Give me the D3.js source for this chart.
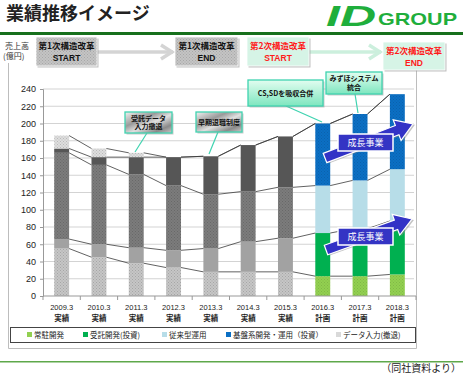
<!DOCTYPE html>
<html>
<head>
<meta charset="utf-8">
<script src="https://cdn.jsdelivr.net/npm/d3@7"></script>
<style>
  body { margin: 0; background: #fff; }
  svg { display: block; font-family: "Liberation Sans", "Noto Sans CJK JP", sans-serif; }
</style>
</head>
<body>
<div id="chart"></div>
<script>
// categories and values (億円)
const categories = ["2009.3", "2010.3", "2011.3", "2012.3", "2013.3", "2014.3", "2015.3", "2016.3", "2017.3", "2018.3"];
const periods = ["実績", "実績", "実績", "実績", "実績", "実績", "実績", "計画", "計画", "計画"];
const seriesNames = ["常駐開発", "受託開発(投資)", "従来型運用", "基盤系開発・運用（投資）", "データ入力(撤退)"];
const joutyu = [55, 45, 38, 33, 28, 28, 28, 23, 23, 25];
const jutaku = [11, 15, 18, 20, 27, 35, 39, 50, 55, 62];
const jurai = [100, 92, 85, 75, 63, 58, 59, 55, 56, 60];
const kiban = [5, 9, 20, 33, 44, 54, 59, 72, 77, 87];
const dataNyu = [15, 10, 5, 0, 0, 0, 0, 0, 0, 0];
const yTicks = [0, 20, 40, 60, 80, 100, 120, 140, 160, 180, 200, 220, 240];

const actualColors = ["#c6c6c6", "#a2a2a2", "#7c7c7c", "#565656", "#dedede"];
const planColors = ["#92d050", "#00b050", "#b7dde8", "#0b6fc4", "#d9d9d9"];
const dotted = [true, false, true, false, true];

const W = 463, H = 374;
const svg = d3.select("#chart").append("svg").attr("width", W).attr("height", H);
const defs = svg.append("defs");

// dotted textures
function makePattern(id, base, dot) {
  const p = defs.append("pattern").attr("id", id).attr("width", 3).attr("height", 3)
    .attr("patternUnits", "userSpaceOnUse");
  p.append("rect").attr("width", 3).attr("height", 3).attr("fill", base);
  p.append("rect").attr("x", 0).attr("y", 0).attr("width", 1).attr("height", 1).attr("fill", dot);
  p.append("rect").attr("x", 1.5).attr("y", 1.5).attr("width", 1).attr("height", 1).attr("fill", dot);
}
actualColors.forEach((c, i) => makePattern("pa" + i, c, d3.color(c).darker(0.5)));
planColors.forEach((c, i) => makePattern("pp" + i, c, d3.color(c).darker(0.35)));
makePattern("boxgray", "#c4c4c4", "#a8a8a8");

const metal = defs.append("linearGradient").attr("id", "metal")
  .attr("x1", "0").attr("y1", "0").attr("x2", "1").attr("y2", "1");
[["0", "#f2f2f2"], ["0.35", "#9a9a9a"], ["0.55", "#e0e0e0"], ["0.8", "#8a8a8a"], ["1", "#c8c8c8"]]
  .forEach(([o, c]) => metal.append("stop").attr("offset", o).attr("stop-color", c));
const mint = defs.append("linearGradient").attr("id", "mint")
  .attr("x1", "0").attr("y1", "0").attr("x2", "0").attr("y2", "1");
[["0", "#e2fdf0"], ["1", "#7ee6bf"]].forEach(([o, c]) => mint.append("stop").attr("offset", o).attr("stop-color", c));

// ---- header ----
svg.append("text").attr("x", 6).attr("y", 20).attr("font-size", 18).attr("font-weight", "bold")
  .attr("font-family", "Noto Sans CJK JP").attr("fill", "#222").text("業績推移イメージ");
svg.append("text").attr("x", 326).attr("y", 26).attr("font-size", 29).attr("font-weight", "bold")
  .attr("font-style", "italic").attr("fill", "#1fae3c").attr("textLength", 50).attr("lengthAdjust", "spacingAndGlyphs").text("ID");
svg.append("text").attr("x", 378).attr("y", 24.5).attr("font-size", 17).attr("font-weight", "bold")
  .attr("fill", "#1fae3c").attr("textLength", 79).attr("lengthAdjust", "spacingAndGlyphs").text("GROUP");
svg.append("rect").attr("x", 0).attr("y", 32).attr("width", W).attr("height", 3).attr("fill", "#17701c");

// chart area frame
svg.append("path").attr("d", "M8.5,63V348.5H416.5V66").attr("fill", "none").attr("stroke", "#bdbdbd");

svg.append("text").attr("x", 5).attr("y", 49).attr("font-size", 8).attr("font-family", "Noto Sans CJK JP").attr("fill", "#333").text("売上高");
svg.append("text").attr("x", 3).attr("y", 59).attr("font-size", 8).attr("font-family", "Noto Sans CJK JP").attr("fill", "#333").text("(億円)");

// ---- scales ----
const x = d3.scaleBand().domain(categories).range([43, 416]).paddingInner(0.6).paddingOuter(0.3);
const y = d3.scaleLinear().domain([0, 240]).range([296, 89]);
const bw = x.bandwidth();

const g = svg.append("g");
g.selectAll(".grid").data(yTicks.slice(1)).join("line").attr("class", "grid")
  .attr("x1", 43).attr("x2", 414).attr("y1", d => y(d)).attr("y2", d => y(d))
  .attr("stroke", "#d3d3d3").attr("stroke-width", 1);

const yAxis = g.append("g").attr("transform", "translate(43,0)")
  .call(d3.axisLeft(y).tickValues(yTicks).tickSize(3).tickPadding(4));
yAxis.select(".domain").attr("stroke", "#999");
yAxis.selectAll(".tick line").attr("stroke", "#999");
yAxis.selectAll("text").attr("font-size", 9).attr("fill", "#222");

// stacked bars
const rows = categories.map((c, i) => ({ cat: c, s0: joutyu[i], s1: jutaku[i], s2: jurai[i], s3: kiban[i], s4: dataNyu[i], plan: periods[i] === "計画" }));
const stack = d3.stack().keys(["s0", "s1", "s2", "s3", "s4"])(rows);

stack.forEach((layer, si) => {
  g.append("g").selectAll("rect").data(layer).join("rect")
    .attr("x", d => x(d.data.cat)).attr("width", bw)
    .attr("y", d => y(d[1])).attr("height", d => Math.max(0, y(d[0]) - y(d[1])))
    .attr("fill", d => {
      if (d.data.plan) return (si === 0 || si === 3) ? "url(#pp" + si + ")" : planColors[si];
      return dotted[si] ? "url(#pa" + si + ")" : actualColors[si];
    });
});

// series lines between bars
stack.forEach(layer => {
  const segs = d3.pairs(layer);
  g.append("g").selectAll("line").data(segs).join("line")
    .attr("x1", d => x(d[0].data.cat) + bw).attr("y1", d => y(d[0][1]))
    .attr("x2", d => x(d[1].data.cat)).attr("y2", d => y(d[1][1]))
    .attr("stroke", "#3a3a3a").attr("stroke-width", 0.8);
});

// x axis
const xAxis = g.append("g").attr("transform", "translate(0,296)");
xAxis.append("line").attr("x1", 43).attr("x2", 416).attr("stroke", "#999");
xAxis.selectAll(".xt").data(categories.concat(["end"])).join("line").attr("class", "xt")
  .attr("x1", (d, i) => 43 + i * x.step()).attr("x2", (d, i) => 43 + i * x.step())
  .attr("y1", 0).attr("y2", 4).attr("stroke", "#999");
xAxis.selectAll(".xl").data(categories).join("text").attr("class", "xl")
  .attr("x", d => x(d) + bw / 2).attr("y", 14).attr("text-anchor", "middle")
  .attr("font-size", 7.5).attr("fill", "#222").text(d => d);
xAxis.selectAll(".xp").data(periods).join("text").attr("class", "xp")
  .attr("x", (d, i) => x(categories[i]) + bw / 2).attr("y", 25).attr("text-anchor", "middle")
  .attr("font-size", 7.5).attr("font-family", "Noto Sans CJK JP").attr("font-weight", "bold").attr("fill", "#222").text(d => d);

// ---- header boxes and arrows ----
function flowArrow(x1, x2, yy, col) {
  svg.append("line").attr("x1", x1).attr("x2", x2 - 2).attr("y1", yy).attr("y2", yy)
    .attr("stroke", col).attr("stroke-width", 3.5);
  svg.append("polyline").attr("points", `${x2 - 14},${yy - 7} ${x2 - 3},${yy} ${x2 - 14},${yy + 7}`)
    .attr("fill", "none").attr("stroke", col).attr("stroke-width", 3.5);
}
flowArrow(97, 175, 52, "#d4d4d4");
flowArrow(309, 383, 52, "#ccefdd");

function stageBox(bx, by, bw2, bh, fill, col, l1, l2) {
  svg.append("rect").attr("x", bx + 1.5).attr("y", by + 1.5).attr("width", bw2).attr("height", bh).attr("fill", "#9a9a9a").attr("opacity", 0.6);
  svg.append("rect").attr("x", bx).attr("y", by).attr("width", bw2).attr("height", bh).attr("fill", fill).attr("stroke", "#fff").attr("stroke-width", 0.8);
  svg.append("text").attr("x", bx + bw2 / 2).attr("y", by + 12).attr("text-anchor", "middle").attr("font-size", 8.5)
    .attr("font-weight", "bold").attr("font-family", "Noto Sans CJK JP").attr("fill", col).text(l1);
  svg.append("text").attr("x", bx + bw2 / 2).attr("y", by + 24).attr("text-anchor", "middle").attr("font-size", 8.5)
    .attr("font-weight", "bold").attr("fill", col).text(l2);
}
stageBox(36, 37, 61, 29, "url(#boxgray)", "#111", "第1次構造改革", "START");
stageBox(175, 37, 63, 29, "url(#boxgray)", "#111", "第1次構造改革", "END");
stageBox(247, 37, 62, 29, "#d6f4e6", "#ff1a1a", "第2次構造改革", "START");
stageBox(383, 42, 62, 28, "#d6f4e6", "#ff1a1a", "第2次構造改革", "END");

// ---- callouts ----
function callout(bx, by, bw2, bh, fill, lines, px, py, tx, ty) {
  svg.append("line").attr("x1", px).attr("y1", py).attr("x2", tx).attr("y2", ty).attr("stroke", "#3fd3b0").attr("stroke-width", 1.2);
  svg.append("rect").attr("x", bx + 1.5).attr("y", by + 1.5).attr("width", bw2).attr("height", bh).attr("fill", "#999").attr("opacity", 0.5);
  svg.append("rect").attr("x", bx).attr("y", by).attr("width", bw2).attr("height", bh).attr("fill", fill)
    .attr("stroke", "#3fd3b0").attr("stroke-width", 1.3);
  lines.forEach((t, i) => {
    svg.append("text").attr("x", bx + bw2 / 2).attr("y", by + bh / 2 + 2.5 + (i - (lines.length - 1) / 2) * 8.5)
      .attr("text-anchor", "middle").attr("font-size", 7).attr("font-weight", "bold")
      .attr("font-family", "Noto Sans CJK JP").attr("fill", "#111").text(t);
  });
}
callout(125, 112, 47, 21, "url(#metal)", ["受託データ", "入力撤退"], 147, 133, 135, 152);
callout(196, 112, 46, 20, "url(#metal)", ["早期退職制度"], 218, 132, 209, 154);
callout(248, 80, 75, 26, "url(#mint)", ["CS,SDを吸収合併"], 286, 106, 322, 122);
callout(326, 72, 56, 22, "url(#mint)", ["みずほシステム", "統合"], 355, 94, 358, 113);

// ---- growth arrows ----
function growth(tx0, ty0, tx1, ty1, lx, ly) {
  const L = Math.hypot(tx1 - tx0, ty1 - ty0);
  const ang = Math.atan2(ty1 - ty0, tx1 - tx0) * 180 / Math.PI;
  const hw = 5, hh = 11, hl = 17;
  const pts = [[0, -hw], [L - hl, -hw], [L - hl, -hh], [L, 0], [L - hl, hh], [L - hl, hw], [0, hw]];
  const ag = svg.append("g").attr("transform", `translate(${tx0},${ty0}) rotate(${ang})`);
  ag.append("polygon").attr("points", pts.map(p => p.join(",")).join(" "))
    .attr("transform", "translate(1.5,1.5)").attr("fill", "#888").attr("opacity", 0.5);
  ag.append("polygon").attr("points", pts.map(p => p.join(",")).join(" "))
    .attr("fill", "#3333c6").attr("stroke", "#fff").attr("stroke-width", 1.2);
  svg.append("rect").attr("x", lx).attr("y", ly).attr("width", 55).attr("height", 17)
    .attr("fill", "#3434c4").attr("stroke", "#fff").attr("stroke-width", 1.5);
  svg.append("text").attr("x", lx + 27.5).attr("y", ly + 12).attr("text-anchor", "middle").attr("font-size", 9)
    .attr("font-family", "Noto Sans CJK JP").attr("fill", "#fff").text("成長事業");
}
growth(325, 158, 413, 124, 338, 134);
growth(326, 250, 412, 219, 338, 228);

// ---- legend ----
svg.append("rect").attr("x", 10.5).attr("y", 327.5).attr("width", 405).attr("height", 15)
  .attr("fill", "#fff").attr("stroke", "#444").attr("stroke-width", 1);
const legendX = [27, 83, 162, 226, 336];
seriesNames.forEach((n, i) => {
  svg.append("rect").attr("x", legendX[i]).attr("y", 332).attr("width", 5).attr("height", 5).attr("fill", planColors[i]);
  svg.append("text").attr("x", legendX[i] + 7).attr("y", 338).attr("font-size", 7.5)
    .attr("font-family", "Noto Sans CJK JP").attr("fill", "#222").text(n);
});

svg.append("rect").attr("x", 0).attr("y", 361).attr("width", W).attr("height", 1.5).attr("fill", "#5ea84a");
svg.append("text").attr("x", 461).attr("y", 372).attr("text-anchor", "end").attr("font-size", 10)
  .attr("font-family", "Noto Sans CJK JP").attr("fill", "#222").text("（同社資料より）");
</script>
</body>
</html>
